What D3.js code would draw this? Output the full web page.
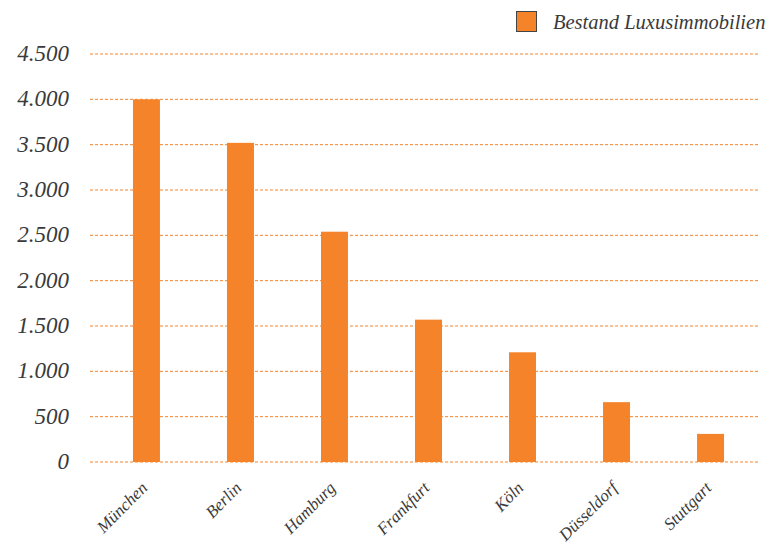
<!DOCTYPE html>
<html>
<head>
<meta charset="utf-8">
<script src="https://cdn.jsdelivr.net/npm/d3@7"></script>
<style>
body { margin: 0; background: #fff; }
text { font-family: "Liberation Serif", "DejaVu Serif", serif; font-style: italic; fill: #3a3a3a; }
</style>
</head>
<body>
<script>
// chart data
var cities = ["München", "Berlin", "Hamburg", "Frankfurt", "Köln", "Düsseldorf", "Stuttgart"];
var values = [4000, 3520, 2540, 1570, 1210, 660, 310];
var yTicks = [0, 500, 1000, 1500, 2000, 2500, 3000, 3500, 4000, 4500];
var seriesName = "Bestand Luxusimmobilien";

var w = 776;
var h = 545;
var orange = "#f5832a";

var svg = d3.select("body")
            .append("svg")
            .attr("width", w)
            .attr("height", h);

var x = d3.scaleBand()
          .domain(cities)
          .range([99.5, 757.5])
          .paddingInner(0.713)
          .paddingOuter(0.356);

var y = d3.scaleLinear()
          .domain([0, 4500])
          .range([462, 54]);

// gridlines
svg.selectAll("line.grid")
    .data(yTicks)
    .enter()
    .append("line")
    .attr("class", "grid")
    .attr("x1", 90)
    .attr("x2", 758)
    .attr("y1", function(d) { return y(d); })
    .attr("y2", function(d) { return y(d); })
    .attr("stroke", orange)
    .attr("stroke-width", 1)
    .attr("stroke-dasharray", "3,2");

// y labels
svg.selectAll("text.ylab")
    .data(yTicks)
    .enter()
    .append("text")
    .attr("class", "ylab")
    .attr("x", 69)
    .attr("y", function(d) { return y(d) + 7; })
    .attr("text-anchor", "end")
    .attr("font-size", "23px")
    .text(function(d) { return d3.format(",")(d).replace(/,/g, "."); });

// bars
svg.selectAll("rect.bar")
    .data(values)
    .enter()
    .append("rect")
    .attr("class", "bar")
    .attr("x", function(d, i) { return x(cities[i]); })
    .attr("y", function(d) { return y(d); })
    .attr("width", x.bandwidth())
    .attr("height", function(d) { return y(0) - y(d); })
    .attr("fill", orange);

// x labels
svg.selectAll("text.xlab")
    .data(cities)
    .enter()
    .append("text")
    .attr("class", "xlab")
    .attr("text-anchor", "end")
    .attr("font-size", "17px")
    .attr("transform", function(d) {
        return "translate(" + (x(d) + x.bandwidth() / 2 + 2) + ",489) rotate(-45)";
    })
    .text(function(d) { return d; });

// legend
svg.append("rect")
    .attr("x", 516.5)
    .attr("y", 11.5)
    .attr("width", 20)
    .attr("height", 20)
    .attr("fill", orange)
    .attr("stroke", "#444")
    .attr("stroke-width", 1);

svg.append("text")
    .attr("x", 553)
    .attr("y", 29)
    .attr("font-size", "20.5px")
    .text(seriesName);
</script>
</body>
</html>
